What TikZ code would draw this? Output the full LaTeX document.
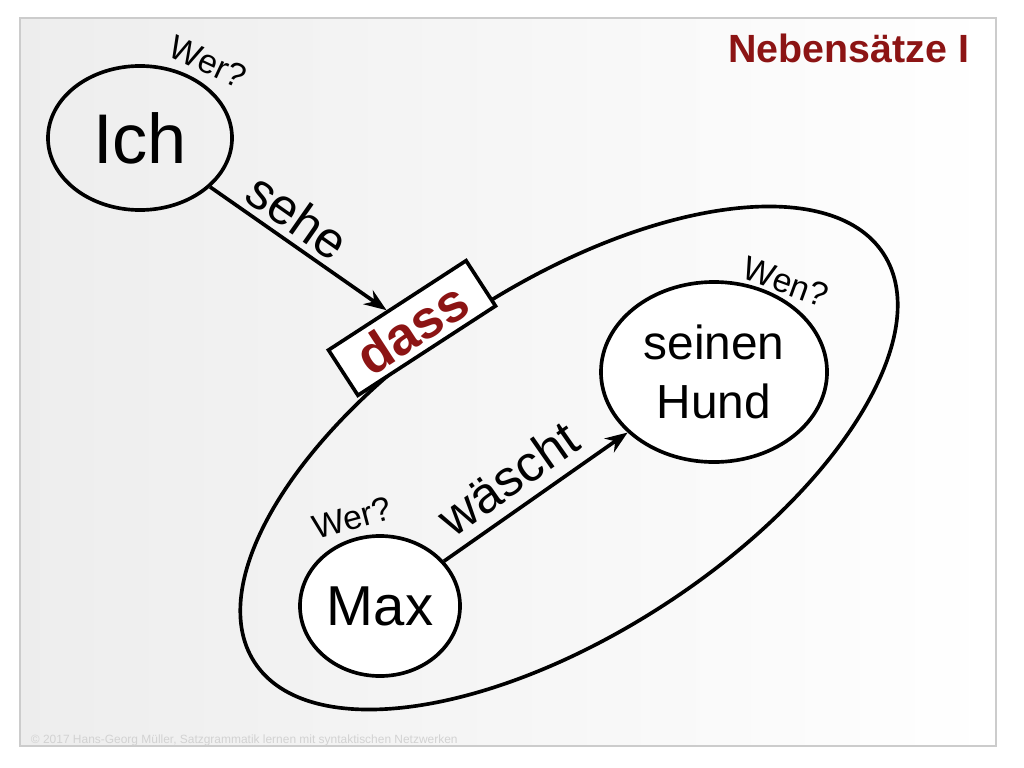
\documentclass[tikz,border=0pt]{standalone}
\usepackage{fontspec}
\setmainfont{Liberation Sans}
\usetikzlibrary{shapes.geometric,arrows.meta}
\definecolor{darkred}{RGB}{140,20,20}
\tikzset{
  word/.style={ellipse, draw, line width=2.6pt, inner sep=0pt},
  askq/.style={font=\fontsize{24}{27}\selectfont},
  verb/.style={font=\fontsize{36}{40}\selectfont},
  arr/.style={line width=2.6pt, -{Stealth[length=16pt,width=12pt]}},
}
\begin{document}
\begin{tikzpicture}[x=0.025cm,y=0.025cm]
        % Page and frame
        \useasboundingbox (0,0) rectangle (1024,-768);
        \fill[white] (0,0) rectangle (1024,-768);
        \shade[left color=gray!14, right color=white, draw=gray!40, line width=1pt]
            (20,-18) rectangle (996,-746);
        \node[anchor=east, text=darkred, font=\fontsize{28}{32}\selectfont\bfseries] (title) at (974,-48) {Nebensätze I};
        \node[anchor=west, text=gray!35, font=\fontsize{8.5}{10}\selectfont] (foot) at (26,-740) {© 2017 Hans-Georg Müller, Satzgrammatik lernen mit syntaktischen Netzwerken};

        % Subordinate clause
        \draw[line width=2.6pt, rotate around={33:(569,-458)}] (569,-458) ellipse (375 and 175);

        % Words
        \node[word, minimum width=4.6cm, minimum height=3.6cm, font=\fontsize{50}{56}\selectfont] (ich) at (140,-138) {Ich};
        \node[word, fill=white, minimum width=5.65cm, minimum height=4.5cm, align=center, font=\fontsize{34}{42}\selectfont] (hund) at (714,-372) {seinen\\Hund};
        \node[word, fill=white, minimum width=4.0cm, minimum height=3.5cm, font=\fontsize{40}{46}\selectfont] (max) at (380,-606) {Max};
        \node[draw, fill=white, line width=2.6pt, rotate=33, minimum width=4.1cm, minimum height=1.35cm, text=darkred, font=\fontsize{38}{42}\selectfont\bfseries] (dass) at (412,-328) {dass};

        % Questions
        \node[askq, rotate=-25] (q1) at (208,-62) {Wer?};
        \node[askq, rotate=-20] (q2) at (786,-282) {Wen?};
        \node[askq, rotate=15] (q3) at (352,-518) {Wer?};

        % Verbs
        \draw[arr] (ich) -- (dass);
        \node[verb, rotate=-35] (sehe) at (298,-216) {sehe};
        \draw[arr] (max) -- (hund);
        \node[verb, rotate=35] (wascht) at (508,-478) {wäscht};
\end{tikzpicture}
\end{document}
